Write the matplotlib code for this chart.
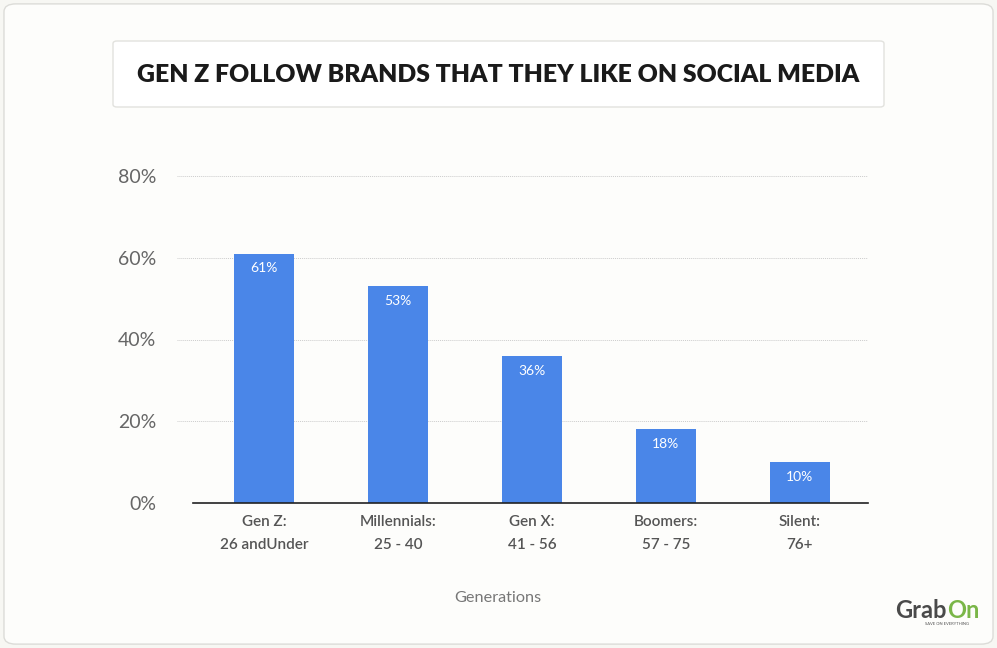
import matplotlib.pyplot as plt
from matplotlib.patches import FancyBboxPatch
import numpy as np

categories = ["Gen Z:\n26 andUnder", "Millennials:\n25 - 40", "Gen X:\n41 - 56",
              "Boomers:\n57 - 75", "Silent:\n76+"]
values = [61, 53, 36, 18, 10]
yticks = [0, 20, 40, 60, 80]

plt.rcParams['font.family'] = ['Lato', 'DejaVu Sans']

fig = plt.figure(figsize=(9.97, 6.48), dpi=100)
fig.patch.set_facecolor("#f7f7f3")

# outer card
card = FancyBboxPatch((0.004, 0.006), 0.992, 0.988, boxstyle="round,pad=0,rounding_size=0.012",
                      transform=fig.transFigure, facecolor="#fdfdfb", edgecolor="#dcdcd8", lw=1,
                      zorder=-2)
fig.patches.append(card)

# title box
tbox = FancyBboxPatch((113/997, 1-107/648), (884-113)/997, 66/648,
                      boxstyle="round,pad=0,rounding_size=0.004",
                      transform=fig.transFigure, facecolor="white", edgecolor="#e2e2de", lw=1,
                      zorder=-1)
fig.patches.append(tbox)
fig.text(498/997, 1-75/648, "GEN Z FOLLOW BRANDS THAT THEY LIKE ON SOCIAL MEDIA",
         ha="center", va="center", fontsize=17.8, fontweight="heavy", color="#1a1a1a")

ax = fig.add_axes([177/997, 1-503/648, (868-177)/997, (503-176)/648])
ax.set_facecolor("none")
x = np.arange(len(categories))
bars = ax.bar(x, values, width=60/134, color="#4a86e8", zorder=3)
for b, v in zip(bars, values):
    ax.text(b.get_x() + b.get_width()/2, v - 3.6, f"{v}%", ha="center", va="center",
            color="white", fontsize=10, zorder=4)

ax.set_xlim(-0.65, 4.51)
ax.set_ylim(0, 80)
ax.set_yticks(yticks)
ax.set_yticklabels([f"{t}%" for t in yticks], fontsize=14, color="#666666")
for t in yticks[1:]:
    ax.axhline(t, color="#cccccc", lw=0.7, ls=(0, (1, 1)), zorder=1)
ax.plot([-0.53, 4.51], [0, 0], color="#222222", lw=1.2, zorder=5, clip_on=False)

ax.set_xticks(x)
ax.set_xticklabels(categories, fontsize=11, color="#555555", linespacing=1.75,
                   fontweight="semibold")
ax.tick_params(axis="both", length=0)
ax.tick_params(axis="x", pad=9)
ax.tick_params(axis="y", pad=15)
for s in ax.spines.values():
    s.set_visible(False)

fig.text(498/997, 1-598/648, "Generations", ha="center", va="center",
         fontsize=11.7, color="#777777")

# logo
fig.text(947/997, 1-611/648, "Grab", ha="right", va="center", fontsize=17,
         fontweight="bold", color="#4a4a4a")
fig.text(947/997, 1-611/648, "On", ha="left", va="center", fontsize=17,
         fontweight="bold", color="#7ab648")
fig.text(947/997, 1-624/648, "SAVE ON EVERYTHING", ha="center", va="center",
         fontsize=3, color="#555555")

fig.savefig("out.png", dpi=100, facecolor=fig.get_facecolor())
